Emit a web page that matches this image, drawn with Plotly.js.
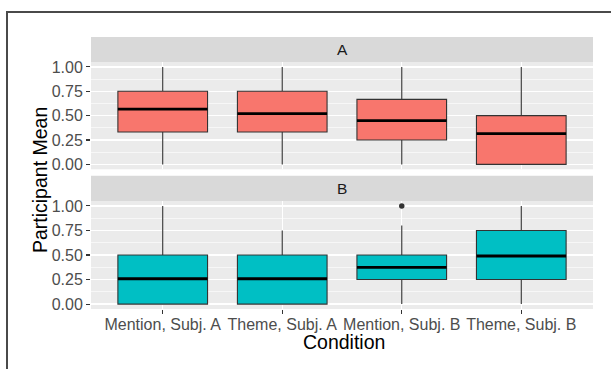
<!DOCTYPE html>
<html>
<head>
<meta charset="utf-8">
<script src="https://cdn.plot.ly/plotly-3.0.1.min.js"></script>
<style>
  html, body { margin: 0; padding: 0; background: #ffffff; }
  #wrap { position: relative; width: 611px; height: 369px; overflow: hidden; }
  #chart { position: absolute; left: 0; top: 0; width: 611px; height: 369px; }
  #frame { position: absolute; left: 6px; top: 11px; width: 800px; height: 600px;
           border-left: 2px solid #4a4a4a; border-top: 2px solid #4a4a4a; pointer-events: none; }
</style>
</head>
<body>
<div id="wrap"><div id="chart"></div><div id="frame"></div></div>
<script>
// ---- data ----
const conditions = ["Mention, Subj. A", "Theme, Subj. A", "Mention, Subj. B", "Theme, Subj. B"];
const facetLabels = ["A", "B"];
const yTickVals = [0, 0.25, 0.5, 0.75, 1];
const yTickText = ["0.00", "0.25", "0.50", "0.75", "1.00"];

// Facet A
const lowA    = [0, 0, 0, 0];
const q1A     = [0.333, 0.333, 0.25, 0];
const medianA = [0.567, 0.52, 0.45, 0.315];
const q3A     = [0.75, 0.75, 0.667, 0.5];
const highA   = [1, 1, 1, 1];

// Facet B
const lowB    = [0, 0, 0, 0];
const q1B     = [0, 0, 0.25, 0.25];
const medianB = [0.258, 0.258, 0.375, 0.49];
const q3B     = [0.5, 0.5, 0.5, 0.75];
const highB   = [1, 0.75, 0.8, 1];

// outliers (facet B)
const outlierX = ["Mention, Subj. B"];
const outlierY = [1];

// ---- styles ----
const colA = "#F8766D", colB = "#00BFC4";
const FONT = "Liberation Sans, Arial, Helvetica, sans-serif";

function boxTrace(q1, med, q3, lo, hi, fill, xa, ya) {
  return {
    type: "box", x: conditions, q1: q1, median: med, q3: q3,
    lowerfence: lo, upperfence: hi, boxpoints: false,
    fillcolor: fill, line: { color: "#333333", width: 1.1 },
    whiskerwidth: 0, width: 0.75, xaxis: xa, yaxis: ya, hoverinfo: "skip"
  };
}
function medianTrace(med, xa, ya) {
  return {
    type: "box", x: conditions, q1: med, median: med, q3: med,
    lowerfence: med, upperfence: med, boxpoints: false,
    fillcolor: "rgba(0,0,0,0)", line: { color: "#000000", width: 2.8 },
    whiskerwidth: 0, width: 0.75, xaxis: xa, yaxis: ya, hoverinfo: "skip"
  };
}

const traces = [
  boxTrace(q1A, medianA, q3A, lowA, highA, colA, "x2", "y2"),
  medianTrace(medianA, "x2", "y2"),
  boxTrace(q1B, medianB, q3B, lowB, highB, colB, "x", "y"),
  medianTrace(medianB, "x", "y"),
  { type: "scatter", mode: "markers", x: outlierX, y: outlierY, xaxis: "x", yaxis: "y",
    marker: { color: "#333333", size: 5.5 }, hoverinfo: "skip" }
];

const yCommon = {
  range: [-0.05, 1.05], tickvals: yTickVals, ticktext: yTickText,
  showgrid: true, gridcolor: "#FFFFFF", gridwidth: 1.2, zeroline: false,
  minor: { dtick: 0.125, tick0: 0, showgrid: true, gridcolor: "#FFFFFF", gridwidth: 0.6, ticks: "" },
  ticks: "outside", ticklen: 4, tickwidth: 1.1, tickcolor: "#333333",
  tickfont: { family: FONT, size: 16, color: "#4D4D4D" }, showline: false, fixedrange: true
};
const xCommon = {
  type: "category", categoryorder: "array", categoryarray: conditions,
  range: [-0.6, 3.6], showgrid: true, gridcolor: "#FFFFFF", gridwidth: 1.2, zeroline: false,
  ticks: "outside", ticklen: 4, tickwidth: 1.1, tickcolor: "#333333",
  tickfont: { family: FONT, size: 16, color: "#4D4D4D" }, showline: false, fixedrange: true
};

// strip geometry (paper)
const stripA = [0.908, 1.0], stripB = [0.397, 0.4897];

const layout = {
  width: 611, height: 369,
  margin: { l: 91, r: 18, t: 37, b: 60, pad: 0 },
  paper_bgcolor: "rgba(0,0,0,0)", plot_bgcolor: "#EBEBEB",
  showlegend: false,
  font: { family: FONT },
  xaxis: Object.assign({}, xCommon, { domain: [0, 1], anchor: "y", ticklabelstandoff: -3 }),
  xaxis2: Object.assign({}, xCommon, { domain: [0, 1], anchor: "y2", matches: "x", showticklabels: false, ticks: "" }),
  yaxis: Object.assign({}, yCommon, { domain: [0, 0.397], anchor: "x" }),
  yaxis2: Object.assign({}, yCommon, { domain: [0.5136, 0.908], anchor: "x2" }),
  shapes: [
    { type: "rect", xref: "paper", yref: "paper", x0: 0, x1: 1, y0: stripA[0], y1: stripA[1],
      fillcolor: "#D9D9D9", line: { width: 0 }, layer: "below" },
    { type: "rect", xref: "paper", yref: "paper", x0: 0, x1: 1, y0: stripB[0], y1: stripB[1],
      fillcolor: "#D9D9D9", line: { width: 0 }, layer: "below" }
  ],
  annotations: [
    { text: facetLabels[0], xref: "paper", yref: "paper", x: 0.5, y: (stripA[0] + stripA[1]) / 2,
      xanchor: "center", yanchor: "middle", showarrow: false, font: { family: FONT, size: 15.5, color: "#1A1A1A" } },
    { text: facetLabels[1], xref: "paper", yref: "paper", x: 0.5, y: (stripB[0] + stripB[1]) / 2,
      xanchor: "center", yanchor: "middle", showarrow: false, font: { family: FONT, size: 15.5, color: "#1A1A1A" } },
    { text: "Participant Mean", xref: "paper", yref: "paper", x: -0.1016, y: 0.474, textangle: -90,
      xanchor: "center", yanchor: "middle", showarrow: false, font: { family: FONT, size: 19.5, color: "#000000" } },
    { text: "Condition", xref: "paper", yref: "paper", x: 0.503, y: -0.1195,
      xanchor: "center", yanchor: "middle", showarrow: false, font: { family: FONT, size: 19.5, color: "#000000" } }
  ]
};

Plotly.newPlot("chart", traces, layout, { staticPlot: true, displayModeBar: false });
</script>
</body>
</html>
